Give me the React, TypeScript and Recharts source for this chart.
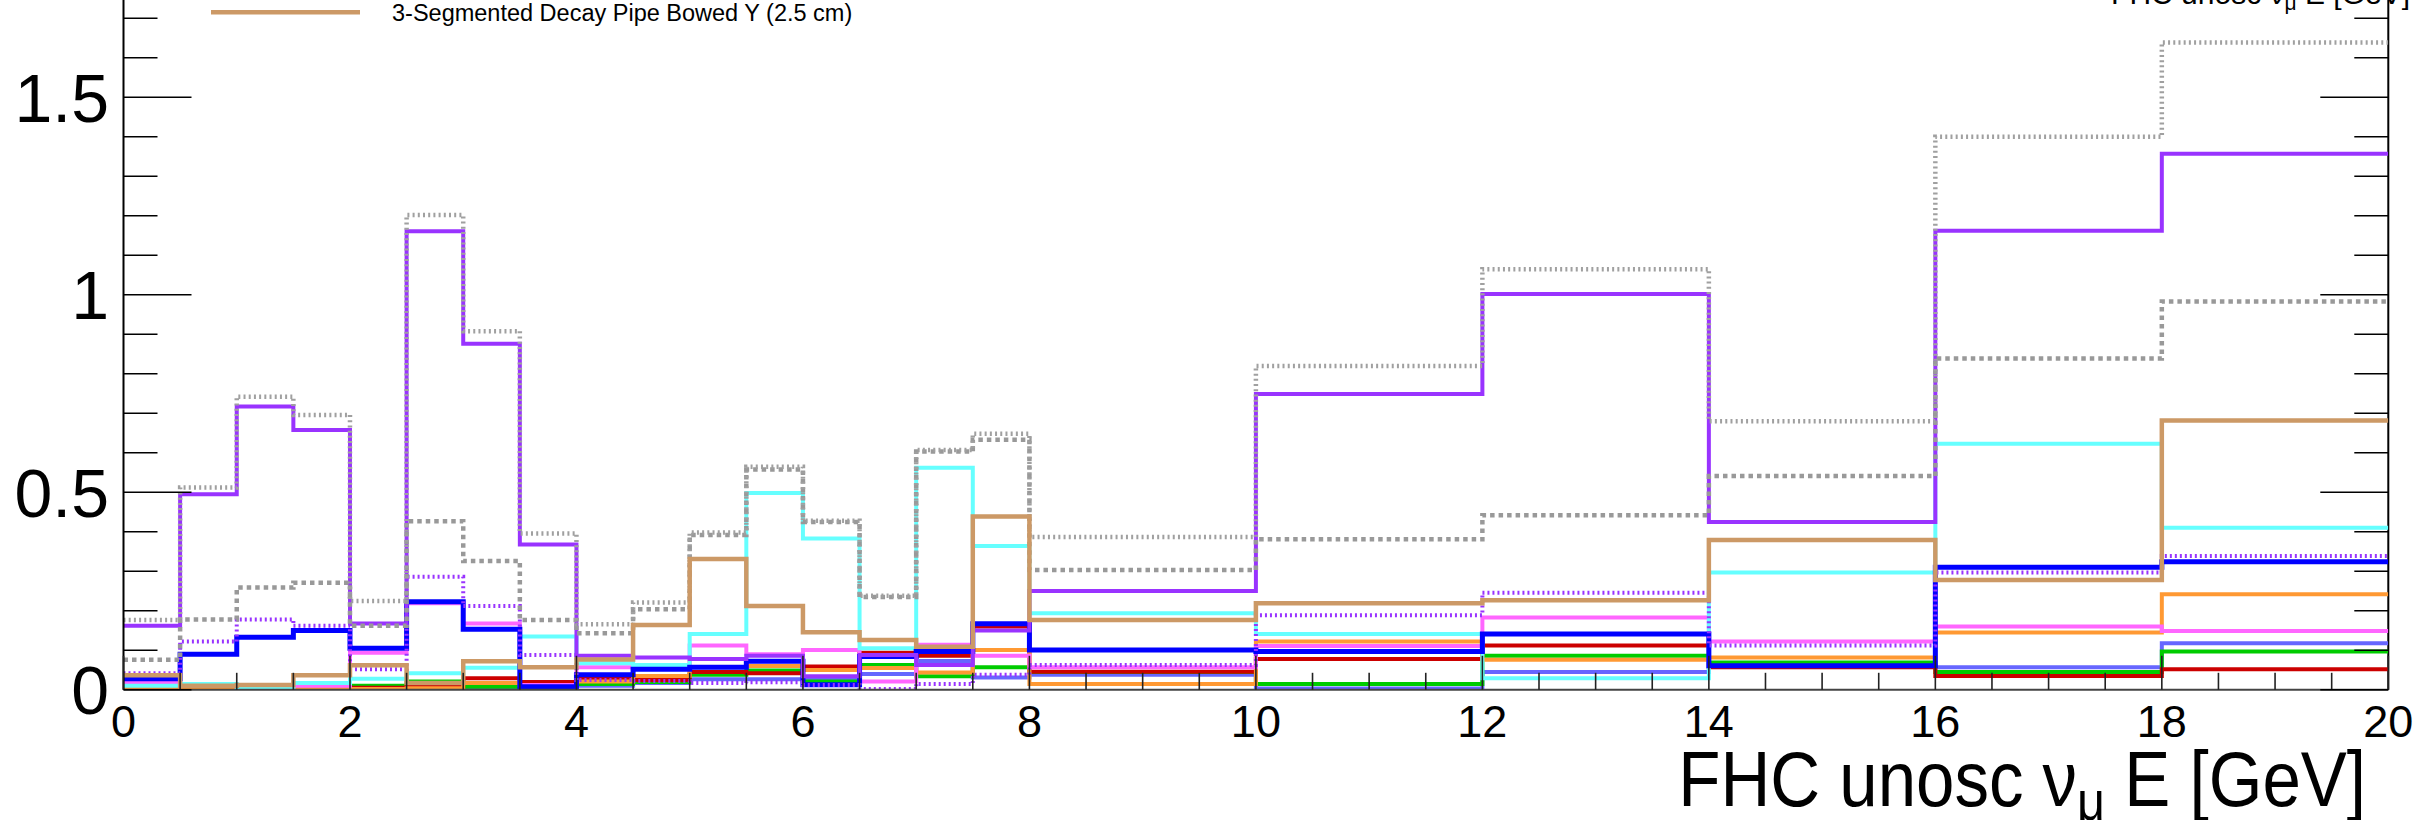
import React from 'react';
import { LineChart, Line, XAxis, YAxis, ReferenceLine } from 'recharts';

// ---- data ----
const binEdges = [0, 0.5, 1, 1.5, 2, 2.5, 3, 3.5, 4, 4.5, 5, 5.5, 6, 6.5, 7, 7.5, 8, 10, 12, 14, 16, 18, 20];

const grayDotted = [0.177, 0.512, 0.742, 0.696, 0.225, 1.202, 0.908, 0.396, 0.166, 0.221, 0.398, 0.565, 0.428, 0.238, 0.607, 0.648, 0.387, 0.82, 1.065, 0.68, 1.4, 1.639];
const grayDashed = [0.076, 0.178, 0.259, 0.271, 0.162, 0.427, 0.326, 0.177, 0.143, 0.204, 0.392, 0.558, 0.425, 0.235, 0.603, 0.633, 0.303, 0.381, 0.442, 0.541, 0.839, 0.983];
const purple = [0.162, 0.495, 0.717, 0.658, 0.168, 1.161, 0.876, 0.368, 0.086, 0.082, 0.078, 0.086, 0.034, 0.088, 0.063, 0.15, 0.25, 0.749, 1.002, 0.425, 1.162, 1.357];
const purpleDotted = [0.042, 0.122, 0.178, 0.162, 0.052, 0.286, 0.212, 0.088, 0.025, 0.022, 0.017, 0.019, 0.012, 0.002, 0.015, 0.038, 0.063, 0.189, 0.246, 0.112, 0.297, 0.339];
const blue = [0.028, 0.09, 0.133, 0.15, 0.105, 0.223, 0.153, 0.008, 0.038, 0.052, 0.057, 0.072, 0.013, 0.084, 0.097, 0.167, 0.101, 0.097, 0.141, 0.061, 0.31, 0.324];
const cyan = [0.01, 0.015, 0.006, 0.017, 0.028, 0.042, 0.056, 0.135, 0.067, 0.063, 0.141, 0.498, 0.383, 0.105, 0.562, 0.364, 0.194, 0.141, 0.029, 0.297, 0.623, 0.41];
const tan = [0.037, 0.01, 0.012, 0.037, 0.062, 0.017, 0.072, 0.057, 0.077, 0.164, 0.331, 0.212, 0.146, 0.126, 0.109, 0.439, 0.177, 0.219, 0.227, 0.379, 0.278, 0.682];
const magenta = [0.02, 0.01, 0.008, 0.01, 0.094, 0.219, 0.168, 0.012, 0.057, 0.057, 0.112, 0.09, 0.101, 0.021, 0.114, 0.086, 0.057, 0.111, 0.183, 0.122, 0.16, 0.149];
const orange = [0.003, 0.003, 0.003, 0.003, 0.002, 0.004, 0.017, 0.012, 0.021, 0.035, 0.078, 0.06, 0.05, 0.055, 0.044, 0.101, 0.015, 0.122, 0.076, 0.082, 0.145, 0.242];
const red = [0.002, 0.002, 0.002, 0.003, 0.005, 0.01, 0.029, 0.02, 0.029, 0.025, 0.045, 0.042, 0.059, 0.094, 0.086, 0.16, 0.046, 0.078, 0.112, 0.057, 0.035, 0.052];
const green = [0.004, 0.004, 0.004, 0.004, 0.01, 0.021, 0.008, 0.02, 0.015, 0.02, 0.038, 0.049, 0.021, 0.063, 0.034, 0.057, 0.045, 0.015, 0.086, 0.069, 0.045, 0.097];
const periwinkle = [0.002, 0.002, 0.002, 0.002, 0.002, 0.004, 0.004, 0.003, 0.01, 0.017, 0.027, 0.027, 0.03, 0.04, 0.073, 0.031, 0.038, 0.003, 0.045, 0.062, 0.057, 0.118];

const xTicks = [0, 0.5, 1, 1.5, 2, 2.5, 3, 3.5, 4, 4.5, 5, 5.5, 6, 6.5, 7, 7.5, 8, 8.5, 9, 9.5, 10, 10.5, 11, 11.5, 12, 12.5, 13, 13.5, 14, 14.5, 15, 15.5, 16, 16.5, 17, 17.5, 18, 18.5, 19, 19.5, 20];
const xTickLabels = [0, 2, 4, 6, 8, 10, 12, 14, 16, 18, 20];
const yTicks = [0, 0.1, 0.2, 0.3, 0.4, 0.5, 0.6, 0.7, 0.8, 0.9, 1, 1.1, 1.2, 1.3, 1.4, 1.5, 1.6, 1.7];
const yTickLabels = [0, 0.5, 1, 1.5];

const legendLabel = '3-Segmented Decay Pipe Bowed Y (2.5 cm)';

// ---- series styles ----
const seriesList = [
  { key: 'periwinkle', values: periwinkle, color: '#6666ff', width: 4, dash: undefined },
  { key: 'green', values: green, color: '#00cc00', width: 4, dash: undefined },
  { key: 'red', values: red, color: '#cc0000', width: 4, dash: undefined },
  { key: 'orange', values: orange, color: '#ff9933', width: 4, dash: undefined },
  { key: 'magenta', values: magenta, color: '#ff66ff', width: 4, dash: undefined },
  { key: 'cyan', values: cyan, color: '#66ffff', width: 4, dash: undefined },
  { key: 'blue', values: blue, color: '#0000ff', width: 5, dash: undefined },
  { key: 'purpleDotted', values: purpleDotted, color: '#9933ff', width: 4, dash: '2 3' },
  { key: 'purple', values: purple, color: '#9933ff', width: 4, dash: undefined },
  { key: 'grayDashed', values: grayDashed, color: '#999999', width: 4.5, dash: '4.5 4' },
  { key: 'grayDotted', values: grayDotted, color: '#a0a0a0', width: 4.5, dash: '2 3.2' },
  { key: 'tan', values: tan, color: '#cc9966', width: 4.5, dash: undefined },
];

const rows = binEdges.map((edge, i) => {
  const row: Record<string, number> = { x: edge };
  const bin = Math.min(i, binEdges.length - 2);
  seriesList.forEach((s) => {
    row[s.key] = s.values[bin];
  });
  return row;
});

// ---- geometry ----
const SHIFT = 40; // chart drawn 40px above page top
const CW = 2422;
const CH = 860;
const PLOT_LEFT = 123.5;
const PLOT_RIGHT = 2388.3;
const PLOT_TOP = 18.8;
const PLOT_BOTTOM = 729.8;
const FONT = '"Liberation Sans", Arial, Helvetica, sans-serif';

const fmt = (v: number) => String(Math.round(v * 10) / 10);

const YTick = (props: any) => {
  const { y, payload } = props;
  const v = payload.value;
  const major = yTickLabels.some((t) => Math.abs(t - v) < 1e-6);
  const len = major ? 68 : 34;
  return (
    <g>
      <line x1={PLOT_LEFT} x2={PLOT_LEFT + len} y1={y} y2={y} stroke="#000" strokeWidth={1.6} />
      <line x1={PLOT_RIGHT - len} x2={PLOT_RIGHT} y1={y} y2={y} stroke="#000" strokeWidth={1.6} />
      {major && (
        <text x={109} y={y + 24.3} textAnchor="end" fontSize={68} fontFamily={FONT} fill="#000">
          {fmt(v)}
        </text>
      )}
    </g>
  );
};

const XTick = (props: any) => {
  const { x, payload } = props;
  const v = payload.value;
  const major = xTickLabels.some((t) => Math.abs(t - v) < 1e-6);
  const len = major ? 34 : 17;
  return (
    <g>
      <line x1={x} x2={x} y1={PLOT_BOTTOM} y2={PLOT_BOTTOM - len} stroke="#222" strokeWidth={1.6} />
      {major && (
        <text x={x} y={PLOT_BOTTOM + 47.5} textAnchor="middle" fontSize={45} fontFamily={FONT} fill="#000">
          {fmt(v)}
        </text>
      )}
    </g>
  );
};

export default function App() {
  return (
    <div style={{ position: 'absolute', left: 0, top: 0, width: 2422, height: 820, overflow: 'hidden', background: '#fff' }}>
      <div style={{ position: 'absolute', left: 0, top: -SHIFT }}>
        <LineChart
          width={CW}
          height={CH}
          data={rows}
          margin={{ top: PLOT_TOP, right: CW - PLOT_RIGHT, bottom: 0, left: 0 }}
        >
          <XAxis
            dataKey="x"
            type="number"
            domain={[0, 20]}
            ticks={xTicks}
            interval={0}
            tick={<XTick />}
            tickLine={false}
            axisLine={{ stroke: '#444', strokeWidth: 2 }}
            height={CH - PLOT_BOTTOM}
            allowDataOverflow
          />
          <YAxis
            type="number"
            domain={[0, 1.8]}
            ticks={yTicks}
            interval={0}
            tick={<YTick />}
            tickLine={false}
            axisLine={{ stroke: '#000', strokeWidth: 2 }}
            width={PLOT_LEFT}
            allowDataOverflow
          />
          <ReferenceLine x={20} stroke="#000" strokeWidth={2} ifOverflow="visible" />
          {seriesList.map((s) => (
            <Line
              key={s.key}
              dataKey={s.key}
              type="stepAfter"
              stroke={s.color}
              strokeWidth={s.width}
              strokeDasharray={s.dash}
              strokeLinecap="butt"
              strokeLinejoin="miter"
              dot={false}
              activeDot={false}
              isAnimationActive={false}
            />
          ))}
        </LineChart>
      </div>
      <svg
        width={2422}
        height={820}
        style={{ position: 'absolute', left: 0, top: 0, pointerEvents: 'none' }}
      >
        <line x1={211} x2={360} y1={12.3} y2={12.3} stroke="#cc9966" strokeWidth={4.5} />
        <text x={392} y={20.5} fontSize={23.5} fontFamily={FONT} fill="#000">
          {legendLabel}
        </text>
        <text x={2410} y={4} textAnchor="end" fontSize={30} fontFamily={FONT} fill="#000">
          <tspan>FHC unosc ν</tspan>
          <tspan dy={6} fontSize={21}>μ</tspan>
          <tspan dy={-6}> E [GeV]</tspan>
        </text>
        <text transform="translate(2366,806) scale(0.885,1)" x={0} y={0} textAnchor="end" fontSize={78} fontFamily={FONT} fill="#000">
          <tspan>FHC unosc ν</tspan>
          <tspan dy={14} fontSize={55}>μ</tspan>
          <tspan dy={-14}> E [GeV]</tspan>
        </text>
      </svg>
    </div>
  );
}
